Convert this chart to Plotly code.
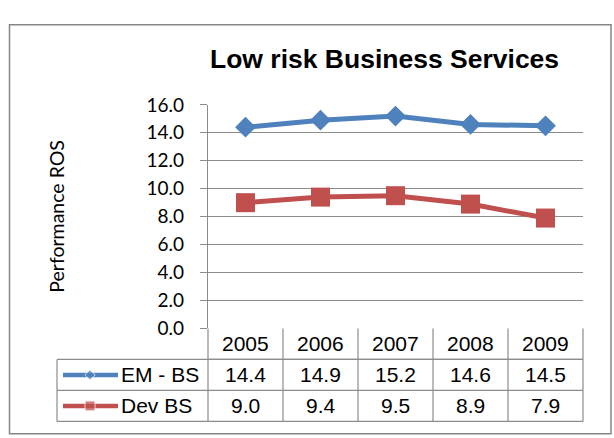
import plotly.graph_objects as go

years = ["2005", "2006", "2007", "2008", "2009"]
em_bs = [14.4, 14.9, 15.2, 14.6, 14.5]
dev_bs = [9.0, 9.4, 9.5, 8.9, 7.9]
series_names = ["EM - BS", "Dev BS"]
colors = ["#4F81BD", "#C0504D"]
symbols = ["diamond", "square"]
title = "Low risk Business Services"
ytitle = "Performance ROS"

W, H = 614, 438
def px(x):
    return x / W
def py(y):
    return 1 - y / H

# plot-area pixel geometry
L, R, T, B = 208, 583, 98, 334
row_h = 32.7
leg_left = 57
grid = "#8C8C8C"

fig = go.Figure()
for name, vals, c, s in zip(series_names, [em_bs, dev_bs], colors, symbols):
    fig.add_trace(go.Scatter(
        x=years, y=vals, name=name, mode="lines+markers",
        line=dict(color=c, width=5),
        marker=dict(symbol=s, size=16 if s == "diamond" else 19, color=c),
        xaxis="x", yaxis="y", showlegend=False, cliponaxis=False))

# legend key samples inside the data table (pixel axes)
for i, (name, c, s) in enumerate(zip(series_names, colors, symbols)):
    yc = B + row_h * (i + 1.5)
    fig.add_trace(go.Scatter(
        x=[63, 90, 118], y=[yc, yc, yc], mode="lines+markers",
        line=dict(color=c, width=4.5),
        marker=dict(symbol=s, size=[0, 8 if s == "diamond" else 10, 0], color=c),
        xaxis="x2", yaxis="y2", showlegend=False, hoverinfo="skip"))

shapes = []
# outer chart border
shapes.append(dict(type="rect", xref="paper", yref="paper",
                   x0=px(9.5), x1=px(611), y0=py(445), y1=py(13.5),
                   line=dict(color="#868686", width=1.5)))
# table lines
col_w = (R - L) / len(years)
line_style = dict(color=grid, width=1.2)
shapes.append(dict(type="line", xref="paper", yref="paper", x0=px(L), x1=px(R),
                   y0=py(B + row_h), y1=py(B + row_h), line=line_style))
for k in (1, 2, 3):
    yv = B + row_h * k
    shapes.append(dict(type="line", xref="paper", yref="paper", x0=px(leg_left), x1=px(R),
                       y0=py(yv), y1=py(yv), line=line_style))
for j in range(len(years) + 1):
    xv = L + col_w * j
    shapes.append(dict(type="line", xref="paper", yref="paper", x0=px(xv), x1=px(xv),
                       y0=py(B), y1=py(B + 3 * row_h), line=line_style))
shapes.append(dict(type="line", xref="paper", yref="paper", x0=px(leg_left), x1=px(leg_left),
                   y0=py(B + row_h), y1=py(B + 3 * row_h), line=line_style))

annotations = []
tfont = dict(family="Liberation Sans, Arial", size=21, color="#000000")
for j, yr in enumerate(years):
    xc = L + col_w * (j + 0.5)
    annotations.append(dict(xref="paper", yref="paper", x=px(xc), y=py(B + row_h * 0.5),
                            text=yr, showarrow=False, font=tfont, xanchor="center", yanchor="middle"))
    for i, vals in enumerate([em_bs, dev_bs]):
        annotations.append(dict(xref="paper", yref="paper", x=px(xc), y=py(B + row_h * (i + 1.5)),
                                text=f"{vals[j]:.1f}", showarrow=False, font=tfont,
                                xanchor="center", yanchor="middle"))
for i, name in enumerate(series_names):
    annotations.append(dict(xref="paper", yref="paper", x=px(119), y=py(B + row_h * (i + 1.5)),
                            text=name, showarrow=False, font=tfont, xanchor="left", yanchor="middle"))
# title
annotations.append(dict(xref="paper", yref="paper", x=px(385), y=py(50), text=f"<b>{title}</b>",
                        showarrow=False, xanchor="center", yanchor="middle",
                        font=dict(family="Liberation Sans, Arial", size=26.5, color="#000000")))
# y-axis title
annotations.append(dict(xref="paper", yref="paper", x=px(57), y=py(216), text=ytitle,
                        showarrow=False, textangle=-90, xanchor="center", yanchor="middle",
                        font=dict(family="Lato, Open Sans", size=19.5, color="#000000")))

fig.update_layout(
    width=W, height=H, margin=dict(l=0, r=0, t=0, b=0),
    paper_bgcolor="white", plot_bgcolor="rgba(0,0,0,0)",
    xaxis=dict(domain=[px(L), px(R)], type="category", range=[-0.5, 4.5],
               showticklabels=False, showgrid=False, zeroline=False, ticks="",
               showline=False, fixedrange=True),
    yaxis=dict(domain=[py(B), py(T)], range=[0, 16], dtick=2, tickformat=".1f",
               showgrid=True, gridcolor=grid, gridwidth=1.3, zeroline=False,
               showline=True, linecolor=grid, linewidth=1.3,
               ticks="outside", ticklen=7, tickcolor=grid, tickwidth=1.3,
               ticklabelstandoff=12,
               tickfont=dict(family="Lato, Open Sans", size=19, color="#000000")),
    xaxis2=dict(domain=[0, 1], range=[0, W], visible=False, anchor="y2", fixedrange=True),
    yaxis2=dict(domain=[0, 1], range=[H, 0], visible=False, anchor="x2", fixedrange=True),
    shapes=shapes, annotations=annotations,
)

fig.write_html("out.html")
